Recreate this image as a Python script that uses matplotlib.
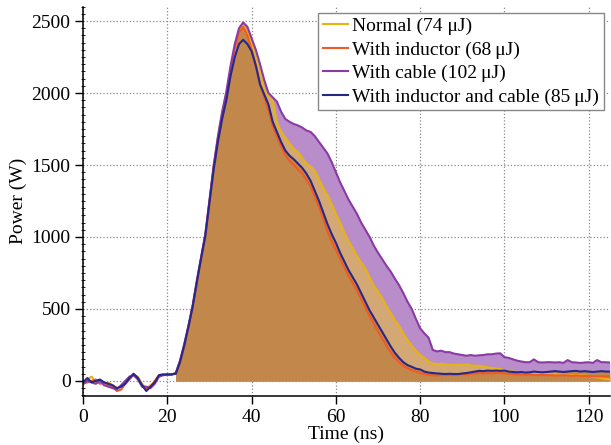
import matplotlib
matplotlib.use("Agg")
import matplotlib.pyplot as plt
from matplotlib.ticker import MultipleLocator
import numpy as np

plt.rcParams['font.family'] = ['Liberation Serif', 'DejaVu Serif']
plt.rcParams['font.size'] = 14

# time axis, 1 ns samples
time_ns = np.arange(0, 126)

labels = ["Normal (74 \u03bcJ)", "With inductor (68\u2009\u03bcJ)",
          "With cable (102\u2009\u03bcJ)", "With inductor and cable (85\u2009\u03bcJ)"]
colors = ["#e6b412", "#f05a24", "#8a3aa4", "#25288a"]
fill_colors = ["#d4a874", "#c2874b", "#b98dc9", "#c2874b"]

# power traces (W), t = 0 .. 125 ns
normal = [-10, 10, 30, -10, 0, -20, -10, -30, -50, -40,
          -10, 20, 40, 30, -20, -50, -30, -10, 30, 40,
          45, 45, 55, 140, 250, 380, 520, 690, 850, 1010,
          1250, 1490, 1690, 1860, 2000, 2170, 2310, 2430, 2470, 2420,
          2340, 2270, 2170, 2020, 1980, 1950, 1800, 1730, 1690, 1650,
          1610, 1590, 1550, 1510, 1490, 1460, 1400, 1340, 1290, 1230,
          1160, 1100, 1030, 970, 920, 870, 820, 780, 720, 660,
          620, 575, 520, 470, 425, 380, 330, 285, 245, 210,
          180, 160, 135, 120, 118, 118, 115, 112, 115, 110,
          112, 115, 108, 105, 106, 100, 95, 90, 85, 83,
          75, 70, 65, 60, 58, 55, 55, 52, 50, 52,
          50, 50, 48, 45, 45, 42, 42, 40, 40, 38,
          35, 30, 25, 20, 15, 10]
inductor = [-20, -10, 0, 10, -20, -10, -30, -40, -70, -60,
            -20, 10, 45, 20, -30, -60, -40, 0, 40, 45,
            40, 45, 50, 135, 240, 370, 510, 680, 845, 1000,
            1240, 1480, 1680, 1850, 1990, 2160, 2310, 2420, 2460, 2400,
            2300, 2190, 2060, 1970, 1880, 1770, 1700, 1630, 1570, 1530,
            1500, 1470, 1440, 1400, 1350, 1280, 1210, 1130, 1040, 970,
            910, 850, 790, 730, 680, 630, 570, 510, 450, 400,
            345, 295, 245, 200, 160, 130, 105, 88, 75, 65,
            55, 48, 42, 40, 38, 40, 42, 40, 42, 45,
            48, 45, 50, 52, 55, 52, 55, 52, 55, 55,
            52, 50, 48, 45, 45, 42, 45, 42, 40, 42,
            40, 40, 38, 38, 40, 38, 36, 38, 35, 35,
            34, 33, 32, 32, 30, 32]
cable = [-20, 0, -10, -20, 0, -30, -40, -50, -60, -30,
         0, 30, 40, 10, -40, -40, -50, -20, 30, 40,
         45, 45, 55, 140, 255, 385, 525, 700, 860, 1020,
         1260, 1500, 1700, 1870, 2010, 2190, 2340, 2450, 2490, 2460,
         2380, 2300, 2200, 2090, 2000, 1970, 1940, 1870, 1820, 1800,
         1785, 1775, 1760, 1740, 1730, 1700, 1660, 1620, 1580, 1520,
         1450, 1380, 1320, 1260, 1210, 1160, 1100, 1050, 1000, 940,
         890, 845, 800, 760, 710, 665, 610, 550, 500, 430,
         365, 330, 300, 215, 205, 210, 200, 200, 190, 185,
         180, 175, 180, 175, 178, 180, 185, 185, 190, 192,
         165, 160, 150, 141, 135, 130, 130, 150, 130, 128,
         130, 130, 128, 130, 125, 145, 130, 128, 125, 128,
         130, 125, 145, 130, 130, 128]
inductor_cable = [-10, 20, -10, 0, 10, -10, -20, -30, -50, -40,
                  -20, 20, 50, 20, -30, -70, -40, -10, 40, 45,
                  45, 45, 50, 130, 245, 375, 515, 685, 850, 1005,
                  1240, 1470, 1660, 1820, 1950, 2120, 2250, 2340, 2370, 2340,
                  2290, 2190, 2060, 1990, 1920, 1800, 1730, 1660, 1600, 1565,
                  1540, 1510, 1480, 1440, 1390, 1320, 1250, 1170, 1090, 1020,
                  960, 890, 830, 770, 720, 670, 610, 550, 490, 440,
                  390, 340, 290, 240, 195, 160, 130, 110, 98, 85,
                  80, 65, 58, 55, 52, 50, 48, 50, 48, 48,
                  52, 55, 60, 65, 70, 68, 72, 70, 72, 70,
                  72, 65, 62, 60, 62, 58, 60, 65, 62, 60,
                  62, 65, 68, 65, 62, 65, 68, 70, 65, 68,
                  65, 62, 65, 68, 65, 65]

series = [normal, inductor, cable, inductor_cable]

fig = plt.figure(figsize=(6.11, 4.45), dpi=100)
ax = fig.add_axes([0.136, 0.11, 0.862, 0.875])

# area fills start where the pulse starts
m = time_ns >= 22
fill_order = [2, 0, 3, 1]
for i in fill_order:
    v = np.array(series[i])
    ax.fill_between(time_ns[m], v[m], 0, color=fill_colors[i], linewidth=0, zorder=1)

for i, v in enumerate(series):
    ax.plot(time_ns, v, color=colors[i], lw=1.5, label=labels[i], zorder=2)

ax.set_xlim(0, 125)
ax.set_ylim(-105, 2600)
ax.set_xticks(np.arange(0, 121, 20))
ax.set_yticks(np.arange(0, 2501, 500))
ax.yaxis.set_minor_locator(MultipleLocator(50))
ax.tick_params(which='major', direction='out', length=6, width=1, pad=3)
ax.tick_params(which='minor', direction='inout', length=3, width=0.6)
ax.tick_params(axis='x', which='minor', bottom=False)

ax.set_axisbelow(True)
ax.grid(True, which='major', linestyle=':', color='#888888', lw=0.9)

for s in ['top', 'right']:
    ax.spines[s].set_visible(False)
for s in ['left', 'bottom']:
    ax.spines[s].set_linewidth(1.1)

ax.set_xlabel("Time (ns)", labelpad=0)
ax.set_ylabel("Power (W)", labelpad=3)

leg = ax.legend(loc='upper right', fancybox=False, edgecolor='#888888', framealpha=1,
                borderaxespad=0.3, handlelength=1.3, handletextpad=0.2,
                labelspacing=0.3, borderpad=0.25, fontsize=14)
leg.get_frame().set_linewidth(1.0)

fig.savefig("out.png", dpi=100)
